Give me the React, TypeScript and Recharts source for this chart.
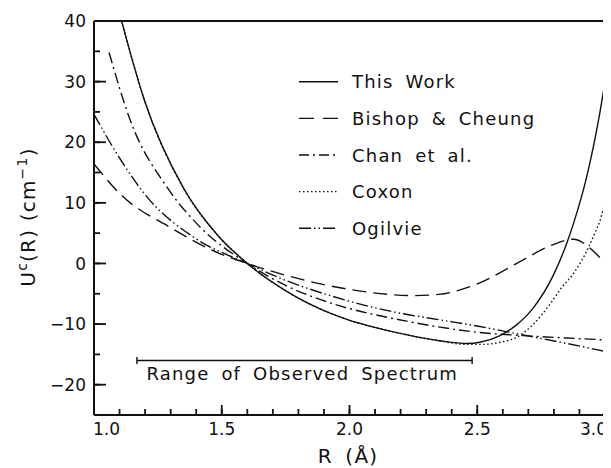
import React from "react";
import { LineChart, Line, XAxis, YAxis, ReferenceLine, Legend } from "recharts";

// ---------- data (R in Å, U in cm^-1) ----------
const thisWork: number[][] = [
  [1.108, 40], [1.196, 27.1], [1.352, 12.3], [1.483, 4.7], [1.6, 0], [1.754, -4.6],
  [1.924, -8.2], [1.995, -9.3], [2.185, -11.4], [2.354, -12.75], [2.46, -13.2],
  [2.51, -13.0], [2.589, -11.9], [2.65, -10.25], [2.718, -7.4], [2.797, -2.0],
  [2.85, 3.3], [2.879, 6.9], [2.928, 14.25], [2.98, 24.9], [3.0, 29.9],
];
const bishopCheung: number[][] = [
  [1.0, 16.4], [1.104, 11.4], [1.3, 5.9], [1.483, 1.8], [1.6, 0], [1.689, -1.2],
  [1.924, -3.7], [2.05, -4.6], [2.15, -5.1], [2.25, -5.3], [2.35, -5.1], [2.43, -4.4],
  [2.51, -3.2], [2.59, -1.5], [2.68, 0.6], [2.785, 2.9], [2.876, 4.0], [2.953, 2.1], [3.0, 0.0],
];
const chanEtAl: number[][] = [
  [1.059, 34.8], [1.143, 23.5], [1.287, 12.5], [1.418, 5.9], [1.6, 0], [1.754, -3.7],
  [1.924, -6.5], [2.185, -9.2], [2.354, -10.5], [2.51, -11.4], [2.68, -11.9], [2.85, -12.3],
  [3.0, -12.6],
];
const coxon: number[][] = [
  [1.108, 40], [1.196, 27.1], [1.352, 12.3], [1.483, 4.7], [1.6, 0], [1.754, -4.6],
  [1.924, -8.2], [1.995, -9.3], [2.185, -11.4], [2.354, -12.8], [2.46, -13.35],
  [2.52, -13.35], [2.59, -13.0], [2.654, -12.2], [2.72, -10.0], [2.785, -6.7], [2.83, -4.0],
  [2.876, -1.7], [2.935, 2.6], [2.96, 5.0], [2.98, 7.0], [3.0, 10.2],
];
const ogilvie: number[][] = [
  [1.0, 24.6], [1.091, 18.0], [1.209, 10.9], [1.391, 4.3], [1.6, 0], [1.754, -2.85],
  [1.924, -5.3], [2.185, -8.1], [2.354, -9.3], [2.51, -10.4], [2.68, -11.8], [2.85, -13.2],
  [3.0, -14.5],
];

const seriesNames = ["This Work", "Bishop & Cheung", "Chan et al.", "Coxon", "Ogilvie"];
const seriesData = [thisWork, bishopCheung, chanEtAl, coxon, ogilvie];

const xTicks = [1.0, 1.1, 1.2, 1.3, 1.4, 1.5, 1.6, 1.7, 1.8, 1.9, 2.0, 2.1, 2.2, 2.3, 2.4, 2.5, 2.6, 2.7, 2.8, 2.9, 3.0];
const xLabelTicks = [1.0, 1.5, 2.0, 2.5, 3.0];
const yTicks = [-20, -15, -10, -5, 0, 5, 10, 15, 20, 25, 30, 35, 40];
const yLabelTicks = [-20, -10, 0, 10, 20, 30, 40];

const rangeStart = 1.168;
const rangeEnd = 2.48;
const rangeLevel = -16;
const rangeText = "Range of Observed Spectrum";

// ---------- styles ----------
const plotDash = ["", "14 7", "11 4 2 4", "1.5 2.5", "12 3 1.5 3 1.5 3"];
const legendDash = ["", "15 9", "10 4 2 4", "1.5 2.5", "12 3 1.5 3 1.5 3"];

const W = 603;
const H = 460;
const MARGIN = { top: 13, right: 6, bottom: 13, left: 26 };
const YAXIS_W = 60;
const XAXIS_H = 40;
const PLOT_LEFT = MARGIN.left + YAXIS_W; // 86
const PLOT_BOTTOM = H - MARGIN.bottom - XAXIS_H; // 407
const FONT = "'DejaVu Sans', sans-serif";
const INK = "#111";

const toPoints = (arr: number[][]) => arr.map(([r, u]) => ({ r, u }));
const fmtNum = (v: number) => (v < 0 ? "\u2212" + Math.abs(v) : String(v));
const isXMajor = (v: number) => xLabelTicks.some((t) => Math.abs(t - v) < 1e-6);

const YTick = (props: any) => {
  const { y, payload } = props;
  const v = payload.value;
  if (!yLabelTicks.includes(v)) return <g />;
  return (
    <text x={PLOT_LEFT - 8} y={y} dy="0.36em" textAnchor="end" fontFamily={FONT} fontSize={17} fill={INK}>
      {fmtNum(v)}
    </text>
  );
};

const XTick = (props: any) => {
  const { x, payload } = props;
  const v = Math.round(payload.value * 10) / 10;
  if (!isXMajor(v)) return <g />;
  let anchor = "middle";
  let tx = x;
  if (Math.abs(v - xLabelTicks[0]) < 1e-6) { anchor = "start"; tx = x - 1; }
  if (Math.abs(v - xLabelTicks[xLabelTicks.length - 1]) < 1e-6) { anchor = "end"; tx = x + 2; }
  return (
    <text x={tx} y={PLOT_BOTTOM + 20} textAnchor={anchor} fontFamily={FONT} fontSize={17} fill={INK}>
      {v.toFixed(1)}
    </text>
  );
};

// longer marks for the labelled (major) ticks; the axes draw the short ones
const makeYTickMark = (len: number) => (p: any) => (
  <line x1={Math.min(p.x1, p.x2)} x2={Math.min(p.x1, p.x2) + len} y1={p.y1} y2={p.y1} stroke={INK} strokeWidth={1.8} />
);
const makeXTickMark = (len: number) => (p: any) => {
  const b = Math.max(p.y1, p.y2);
  return <line x1={p.x1} x2={p.x1} y1={b} y2={b - len} stroke={INK} strokeWidth={1.8} />;
};

const XLabel = () => (
  <text x={340} y={455} textAnchor="middle" fontFamily={FONT} fontSize={20} fill={INK} style={{ wordSpacing: 5, letterSpacing: 1.2 }}>
    R (Å)
  </text>
);

const YLabel = () => (
  <text
    transform="translate(27, 209) rotate(-90)"
    textAnchor="middle"
    fontFamily={FONT}
    fontSize={20}
    fill={INK}
    style={{ letterSpacing: 1.2 }}
  >
    <tspan>U</tspan>
    <tspan fontSize={14} dy={-8}>c</tspan>
    <tspan dy={8}>(R)  (cm</tspan>
    <tspan fontSize={14} dy={-8}>{"\u22121"}</tspan>
    <tspan dy={8}>)</tspan>
  </text>
);

const RangeShape = (props: any) => {
  const { x1, y1, x2, y2 } = props;
  return (
    <g>
      <line x1={x1} y1={y1} x2={x2} y2={y2} stroke={INK} strokeWidth={1.4} />
      <line x1={x1} y1={y1 - 3.5} x2={x1} y2={y1 + 3.5} stroke={INK} strokeWidth={1.4} />
      <line x1={x2} y1={y2 - 3.5} x2={x2} y2={y2 + 3.5} stroke={INK} strokeWidth={1.4} />
      <text x={x1 + 9.5} y={y1 + 19.3} fontFamily={FONT} fontSize={18} fill={INK} style={{ letterSpacing: 1.2, wordSpacing: 5 }}>
        {rangeText}
      </text>
    </g>
  );
};

const LegendContent = () => (
  <svg width={270} height={190} style={{ overflow: "visible" }}>
    {seriesNames.map((name, i) => {
      const cy = 18.7 + i * 36.65;
      return (
        <g key={name}>
          <line x1={11} x2={50} y1={cy} y2={cy} stroke={INK} strokeWidth={1.4} strokeDasharray={legendDash[i] || undefined} />
          <text x={64} y={cy + 6.5} fontFamily={FONT} fontSize={18} fill={INK} style={{ letterSpacing: 1.2, wordSpacing: 5 }}>
            {name}
          </text>
        </g>
      );
    })}
  </svg>
);

export default function App() {
  return (
    <div style={{ width: W, height: H, background: "#fff" }}>
      <LineChart width={W} height={H} margin={MARGIN}>
        <XAxis
          dataKey="r"
          type="number"
          domain={[1, 3]}
          ticks={xTicks}
          height={XAXIS_H}
          axisLine={{ stroke: INK, strokeWidth: 2 }}
          tickLine={{ stroke: INK, strokeWidth: 1.8 }}
          tickSize={-6}
          tick={<XTick />}
          interval={0}
          label={<XLabel />}
        />
        <YAxis
          dataKey="u"
          type="number"
          domain={[-25, 40]}
          ticks={yTicks}
          width={YAXIS_W}
          axisLine={{ stroke: INK, strokeWidth: 2 }}
          tickLine={{ stroke: INK, strokeWidth: 1.8 }}
          tickSize={-6}
          tick={<YTick />}
          interval={0}
          label={<YLabel />}
        />
        {yLabelTicks.map((v) => (
          <ReferenceLine key={"yt" + v} y={v} stroke={INK} shape={makeYTickMark(12)} />
        ))}
        {xLabelTicks.map((v) => (
          <ReferenceLine key={"xt" + v} x={v} stroke={INK} shape={makeXTickMark(10)} />
        ))}
        <ReferenceLine y={40} stroke={INK} strokeWidth={2} />
        <ReferenceLine x={3} stroke={INK} strokeWidth={2} />
        <ReferenceLine
          segment={[{ x: rangeStart, y: rangeLevel }, { x: rangeEnd, y: rangeLevel }]}
          stroke={INK}
          shape={RangeShape}
        />
        {seriesData.map((d, i) => (
          <Line
            key={seriesNames[i]}
            name={seriesNames[i]}
            data={toPoints(d)}
            dataKey="u"
            type="monotone"
            stroke={INK}
            strokeWidth={1.4}
            strokeDasharray={plotDash[i] || undefined}
            dot={false}
            activeDot={false}
            isAnimationActive={false}
          />
        ))}
        <Legend
          layout="vertical"
          align="center"
          verticalAlign="middle"
          content={<LegendContent />}
          wrapperStyle={{ position: "absolute", left: 280, top: 55, width: 270, height: 190 }}
        />
      </LineChart>
    </div>
  );
}
